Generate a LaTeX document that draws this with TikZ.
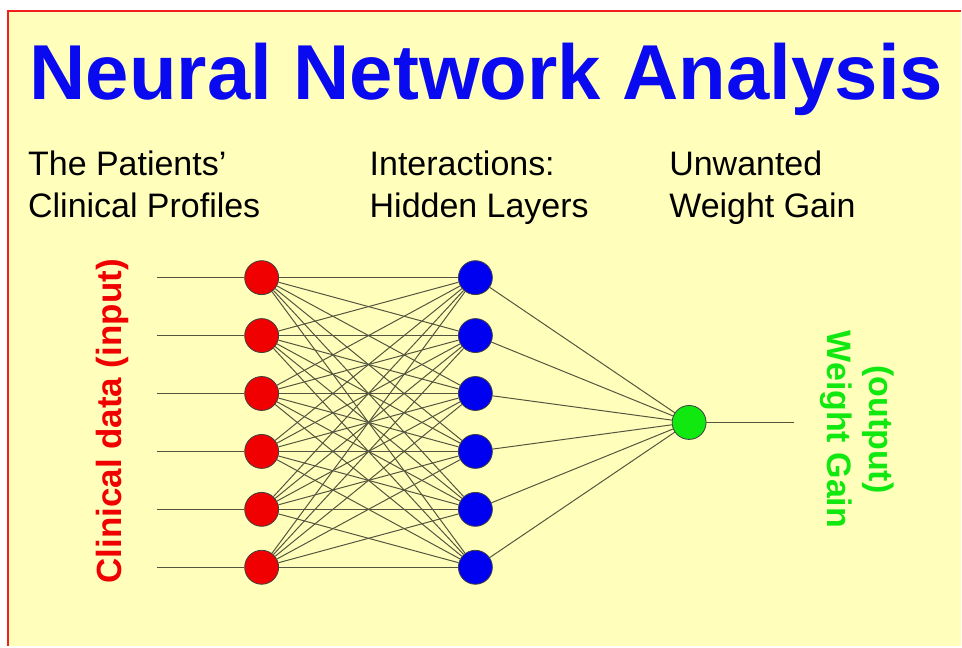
\documentclass[tikz,border=0pt]{standalone}
\usepackage{fontspec}
\setmainfont{Liberation Sans}
\definecolor{pagebg}{HTML}{FFFFBB}
\definecolor{framered}{HTML}{F02020}
\definecolor{titleblue}{HTML}{0A0AF0}
\definecolor{inred}{HTML}{F00000}
\definecolor{hidblue}{HTML}{0000F0}
\definecolor{outgreen}{HTML}{10E810}
\definecolor{wirecol}{HTML}{55553F}
\begin{document}
\begin{tikzpicture}[x=1pt,y=-1pt]
            \tikzset{
                neuron/.style={circle,draw=black!75,line width=0.8pt,minimum size=34pt,inner sep=0pt},
                wire/.style={draw=wirecol,line width=1pt},
                heading/.style={font=\fontsize{34}{42}\selectfont,anchor=base west,align=left,inner sep=0pt},}
            \fill [white](0,0) rectangle (962,647);
            \fill [pagebg](8,11) rectangle (962,647);
            \draw [framered,line width=2.5pt](8,647) -- (8,11) -- (962,11);
            \node [anchor=base,inner sep=0pt,text=titleblue,font=\fontsize{78}{90}\selectfont\bfseries] (title) at (487,100) {Neural Network Analysis};
            \node [heading] (profiles) at (28,218) {The Patients’\\Clinical Profiles};
            \node [heading] (hidden) at (370,218) {Interactions:\\Hidden Layers};
            \node [heading] (gain) at (670,218) {Unwanted\\Weight Gain};
            % layers
            \foreach \i in {1,...,6} {
                \node [neuron,fill=inred] (in\i) at (262,{220+58*\i}) {};
                \node [neuron,fill=hidblue] (hid\i) at (476,{220+58*\i}) {};
                \coordinate (stub\i) at (157,{220+58*\i});
            }
            \node [neuron,fill=outgreen] (out) at (690,423) {};
            \coordinate (end) at (795,423);
            \foreach \i in {1,...,6} {
                \draw [wire](stub\i) -- (in\i);
                \foreach \j in {1,...,6}
                    \draw [wire](in\i) -- (hid\j);
                \draw [wire](hid\i) -- (out);
            }
            \draw [wire](out) -- (end);
            \node [rotate=90,text=inred,font=\fontsize{35}{42}\selectfont\bfseries] (inlabel) at (113,422) {Clinical data (input)};
            \node [rotate=-90,align=center,text=outgreen,font=\fontsize{34}{42}\selectfont\bfseries] (outlabel) at (858,430) {(output)\\Weight Gain};
        \end{tikzpicture}
\end{document}
